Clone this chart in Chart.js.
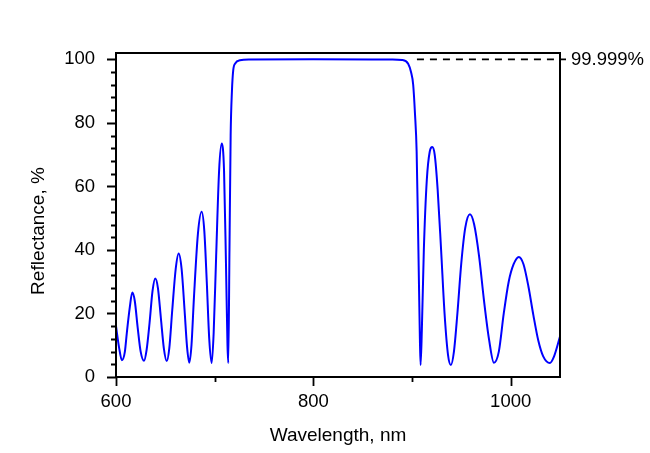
<!DOCTYPE html>
<html>
<head>
<meta charset="utf-8">
<script src="https://cdn.jsdelivr.net/npm/chart.js@4"></script>
<style>
  html, body { margin: 0; padding: 0; background: #fff; }
</style>
</head>
<body>
<canvas id="chart" width="650" height="453"></canvas>
<script>
// Reflectance curve
const wavelength = [
    600, 603, 606, 609, 611, 614, 616.5, 619, 622, 625,
    628.4, 631, 634, 637, 639.8, 642.5, 645.5, 648.5, 651.4, 654,
    657, 660.5, 663.5, 666.5, 669.5, 672, 674.3, 676.5, 679, 683,
    686.8, 689.5, 692, 694.5, 697, 699, 701.5, 704.5, 707.1, 709.5,
    711.5, 713, 713.8, 715, 716.2, 717.5, 718.8, 721, 725.6, 735,
    800, 880, 890, 896.1, 899, 901.2, 903, 904.7, 906.5, 908,
    908.7, 910, 912, 915, 918, 920.5, 923, 926, 929.5, 933,
    936.5, 939.4, 942.5, 946, 950, 954, 958.7, 963, 968, 973,
    978, 983, 988, 993, 998, 1003, 1008.3, 1013, 1018, 1023,
    1028, 1033, 1039.7, 1044, 1050
];
const reflectance = [
    16, 9.5, 5.3, 8, 14, 22, 26.6, 24, 15.5, 8,
    5.1, 8.5, 17, 27, 31, 28, 18.5, 9, 5, 9,
    21, 34, 38.9, 34, 21, 9.5, 4.5, 10, 25, 45,
    52, 46, 30, 12, 4.4, 14, 38, 65, 73.5, 65,
    35, 10, 4.4, 40, 76, 90, 96.5, 98.8, 99.7, 99.95,
    99.999, 99.95, 99.8, 98.6, 96, 92, 83, 71, 40, 12,
    3.8, 15, 40, 62, 71, 72.4, 70, 59, 40, 20,
    7, 3.8, 8, 20, 36, 47, 51.2, 48, 38, 24,
    12, 4.5, 8, 20, 30, 35.5, 37.8, 35.5, 28.5, 19.5,
    11.5, 6.5, 4.4, 6.5, 12.7
];

// 99.999% reference level (dashed)
const refLevel = 99.999;
const refLabel = '99.999%';
const refFrom = 905;
const refTo = 1050;

// Axis ticks
const xTicks = [600, 800, 1000];
const xMinorTicks = [700, 900];
const yTicks = [0, 20, 40, 60, 80, 100];
const yMinorTicks = [4, 8, 12, 16, 24, 28, 32, 36, 44, 48, 52, 56, 64, 68, 72, 76, 84, 88, 92, 96];

const xTitle = 'Wavelength, nm';
const yTitle = 'Reflectance, %';

const FONT = 'Arial, "Liberation Sans", sans-serif';

// Frame, major/minor tick marks, axis titles and the reference label
const frameAndTicks = {
    id: 'frameAndTicks',
    afterDraw(chart) {
        const { ctx, chartArea: a, scales: { x, y } } = chart;
        ctx.save();
        ctx.strokeStyle = '#000';
        ctx.lineWidth = 2;
        ctx.strokeRect(a.left, a.top, a.right - a.left, a.bottom - a.top);

        ctx.lineWidth = 1.8;
        ctx.beginPath();
        yTicks.forEach(v => {
            const py = Math.round(y.getPixelForValue(v)) + 0.5;
            ctx.moveTo(a.left - 9, py); ctx.lineTo(a.left, py);
        });
        yMinorTicks.forEach(v => {
            const py = Math.round(y.getPixelForValue(v)) + 0.5;
            ctx.moveTo(a.left - 5, py); ctx.lineTo(a.left, py);
        });
        xTicks.forEach(v => {
            const px = Math.round(x.getPixelForValue(v)) + 0.5;
            ctx.moveTo(px, a.bottom); ctx.lineTo(px, a.bottom + 9);
        });
        xMinorTicks.forEach(v => {
            const px = Math.round(x.getPixelForValue(v)) + 0.5;
            ctx.moveTo(px, a.bottom); ctx.lineTo(px, a.bottom + 5);
        });
        const ry = y.getPixelForValue(refLevel);
        ctx.moveTo(a.right, ry); ctx.lineTo(a.right + 6, ry);
        ctx.stroke();

        ctx.fillStyle = '#000';
        ctx.font = '18.5px ' + FONT;
        ctx.textAlign = 'left';
        ctx.textBaseline = 'middle';
        ctx.fillText(refLabel, a.right + 11, ry + 1);

        ctx.font = '19px ' + FONT;
        ctx.textAlign = 'center';
        ctx.fillText(xTitle, (a.left + a.right) / 2, 436);
        ctx.translate(39, 231);
        ctx.rotate(-Math.PI / 2);
        ctx.fillText(yTitle, 0, 0);
        ctx.restore();
    }
};

const ctx = document.getElementById('chart').getContext('2d');
new Chart(ctx, {
    type: 'line',
    data: {
        datasets: [{
            data: wavelength.map((w, i) => ({ x: w, y: reflectance[i] })),
            borderColor: '#0000ff',
            borderWidth: 2,
            pointRadius: 0,
            cubicInterpolationMode: 'monotone',
            fill: false
        }, {
            data: [{ x: refFrom, y: refLevel }, { x: refTo, y: refLevel }],
            borderColor: '#000',
            borderWidth: 1.8,
            borderDash: [7, 6],
            pointRadius: 0,
            fill: false
        }]
    },
    options: {
        responsive: false,
        animation: false,
        devicePixelRatio: 1,
        layout: { padding: { left: 0, right: 90, top: 53, bottom: 0 } },
        plugins: {
            legend: { display: false },
            tooltip: { enabled: false }
        },
        scales: {
            x: {
                type: 'linear',
                min: 600,
                max: 1050,
                grid: { display: false, drawTicks: false },
                border: { display: false },
                afterBuildTicks: s => { s.ticks = xTicks.map(v => ({ value: v })); },
                afterFit: s => { s.height = 76; },
                ticks: {
                    color: '#000',
                    padding: 14,
                    maxRotation: 0,
                    callback: v => String(v),
                    font: { family: FONT, size: 18.5 }
                }
            },
            y: {
                type: 'linear',
                min: 0,
                max: 102,
                grid: { display: false, drawTicks: false },
                border: { display: false },
                afterBuildTicks: s => { s.ticks = yTicks.map(v => ({ value: v })); },
                afterFit: s => { s.width = 116; },
                ticks: {
                    color: '#000',
                    padding: 21,
                    callback: v => String(v),
                    font: { family: FONT, size: 18.5 }
                }
            }
        }
    },
    plugins: [frameAndTicks]
});
</script>
</body>
</html>
